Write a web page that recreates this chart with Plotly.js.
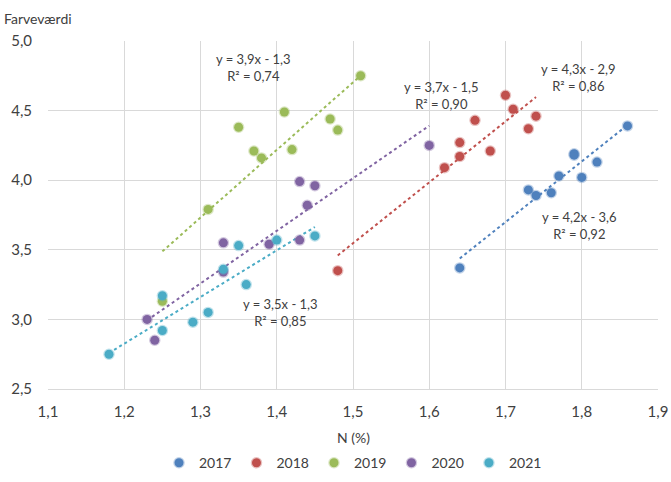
<!DOCTYPE html>
<html><head><meta charset="utf-8">
<script src="https://cdn.plot.ly/plotly-3.0.1.min.js"></script>
<style>html,body{margin:0;padding:0;background:#fff}#chart{width:671px;height:482px}</style>
</head><body><div id="chart"></div>
<script>
const years = ['2017','2018','2019','2020','2021'];
const colors = ['#4F81BD','#C0504D','#9BBB59','#8064A2','#4BACC6'];
const glow = ['rgba(79,129,189,0.35)','rgba(192,80,77,0.35)','rgba(155,187,89,0.35)','rgba(128,100,162,0.35)','rgba(75,172,198,0.35)'];

const x2017 = [1.86,1.79,1.79,1.82,1.77,1.80,1.73,1.74,1.76,1.64];
const y2017 = [4.39,4.19,4.18,4.13,4.03,4.02,3.93,3.89,3.91,3.37];
const x2018 = [1.70,1.71,1.74,1.66,1.73,1.64,1.64,1.68,1.62,1.48];
const y2018 = [4.61,4.51,4.46,4.43,4.37,4.27,4.17,4.21,4.09,3.35];
const x2019 = [1.51,1.41,1.35,1.47,1.48,1.37,1.38,1.42,1.31,1.25];
const y2019 = [4.75,4.49,4.38,4.44,4.36,4.21,4.16,4.22,3.79,3.13];
const x2020 = [1.43,1.45,1.44,1.33,1.39,1.43,1.60,1.33,1.23,1.24];
const y2020 = [3.99,3.96,3.82,3.55,3.54,3.57,4.25,3.34,3.00,2.85];
const x2021 = [1.35,1.40,1.45,1.33,1.36,1.25,1.31,1.29,1.25,1.18];
const y2021 = [3.53,3.57,3.60,3.36,3.25,3.17,3.05,2.98,2.92,2.75];

const eqTexts = ['y = 4,2x - 3,6<br>R² = 0,92','y = 4,3x - 2,9<br>R² = 0,86','y = 3,9x - 1,3<br>R² = 0,74','y = 3,7x - 1,5<br>R² = 0,90','y = 3,5x - 1,3<br>R² = 0,85'];
const eqX = [1.797,1.796,1.37,1.616,1.405];
const eqY = [3.673,4.735,4.81,4.61,3.05];

const xs = [x2017,x2018,x2019,x2020,x2021];
const ys = [y2017,y2018,y2019,y2020,y2021];

function fit(x,y){
  const n=x.length; let sx=0,sy=0,sxx=0,sxy=0;
  for(let i=0;i<n;i++){sx+=x[i];sy+=y[i];sxx+=x[i]*x[i];sxy+=x[i]*y[i];}
  const b=(n*sxy-sx*sy)/(n*sxx-sx*sx); const a=(sy-b*sx)/n; return [a,b];
}

const FONT = 'Lato, "Open Sans", sans-serif';
const traces=[];
for(let k=0;k<5;k++){
  const [a,b]=fit(xs[k],ys[k]);
  const mn=Math.min(...xs[k]), mx=Math.max(...xs[k]);
  traces.push({x:[mn,mx],y:[a+b*mn,a+b*mx],mode:'lines',line:{color:colors[k],width:2,dash:'dot'},showlegend:false,hoverinfo:'skip'});
}
for(let k=0;k<5;k++){
  traces.push({x:xs[k],y:ys[k],mode:'markers',name:years[k],type:'scatter',
    marker:{color:colors[k],size:9,line:{color:glow[k],width:2.5}}});
}

const annotations = eqTexts.map((t,i)=>({x:eqX[i],y:eqY[i],xref:'x',yref:'y',text:t,showarrow:false,
  font:{family:FONT,size:13,color:'#404040'},align:'center'}));
annotations.push({xref:'paper',yref:'paper',x:-0.0754,y:1.066,xanchor:'left',yanchor:'middle',text:'Farveværdi',showarrow:false,
  font:{family:FONT,size:14,color:'#404040'}});
annotations.push({xref:'paper',yref:'paper',x:0.5,y:-0.138,xanchor:'center',yanchor:'middle',text:'N (%)',showarrow:false,
  font:{family:FONT,size:14,color:'#404040'}});

const layout = {
  width:671,height:482,
  margin:{l:48,r:13,t:41,b:93},
  separators:', ',
  paper_bgcolor:'#fff',plot_bgcolor:'#fff',
  font:{family:FONT,size:14,color:'#404040'},
  xaxis:{range:[1.1,1.9],dtick:0.1,tick0:1.1,tickformat:'.1f',showgrid:true,gridcolor:'#d9d9d9',gridwidth:1,
    zeroline:false,showline:true,linecolor:'#d9d9d9',ticks:'outside',tickcolor:'rgba(0,0,0,0)',ticklen:9,
    tickfont:{size:15,color:'#404040'}},
  yaxis:{range:[2.5,5.0],dtick:0.5,tick0:2.5,tickformat:'.1f',showgrid:true,gridcolor:'#d9d9d9',gridwidth:1,
    zeroline:false,showline:false,ticks:'outside',tickcolor:'rgba(0,0,0,0)',ticklen:12,tickfont:{size:15,color:'#404040'}},
  showlegend:true,
  legend:{orientation:'h',x:0.5,xanchor:'center',yref:'container',y:0.039,yanchor:'middle',font:{size:14,color:'#404040'},itemwidth:30},
  annotations:annotations
};
Plotly.newPlot('chart',traces,layout,{displayModeBar:false,staticPlot:true});
</script></body></html>
